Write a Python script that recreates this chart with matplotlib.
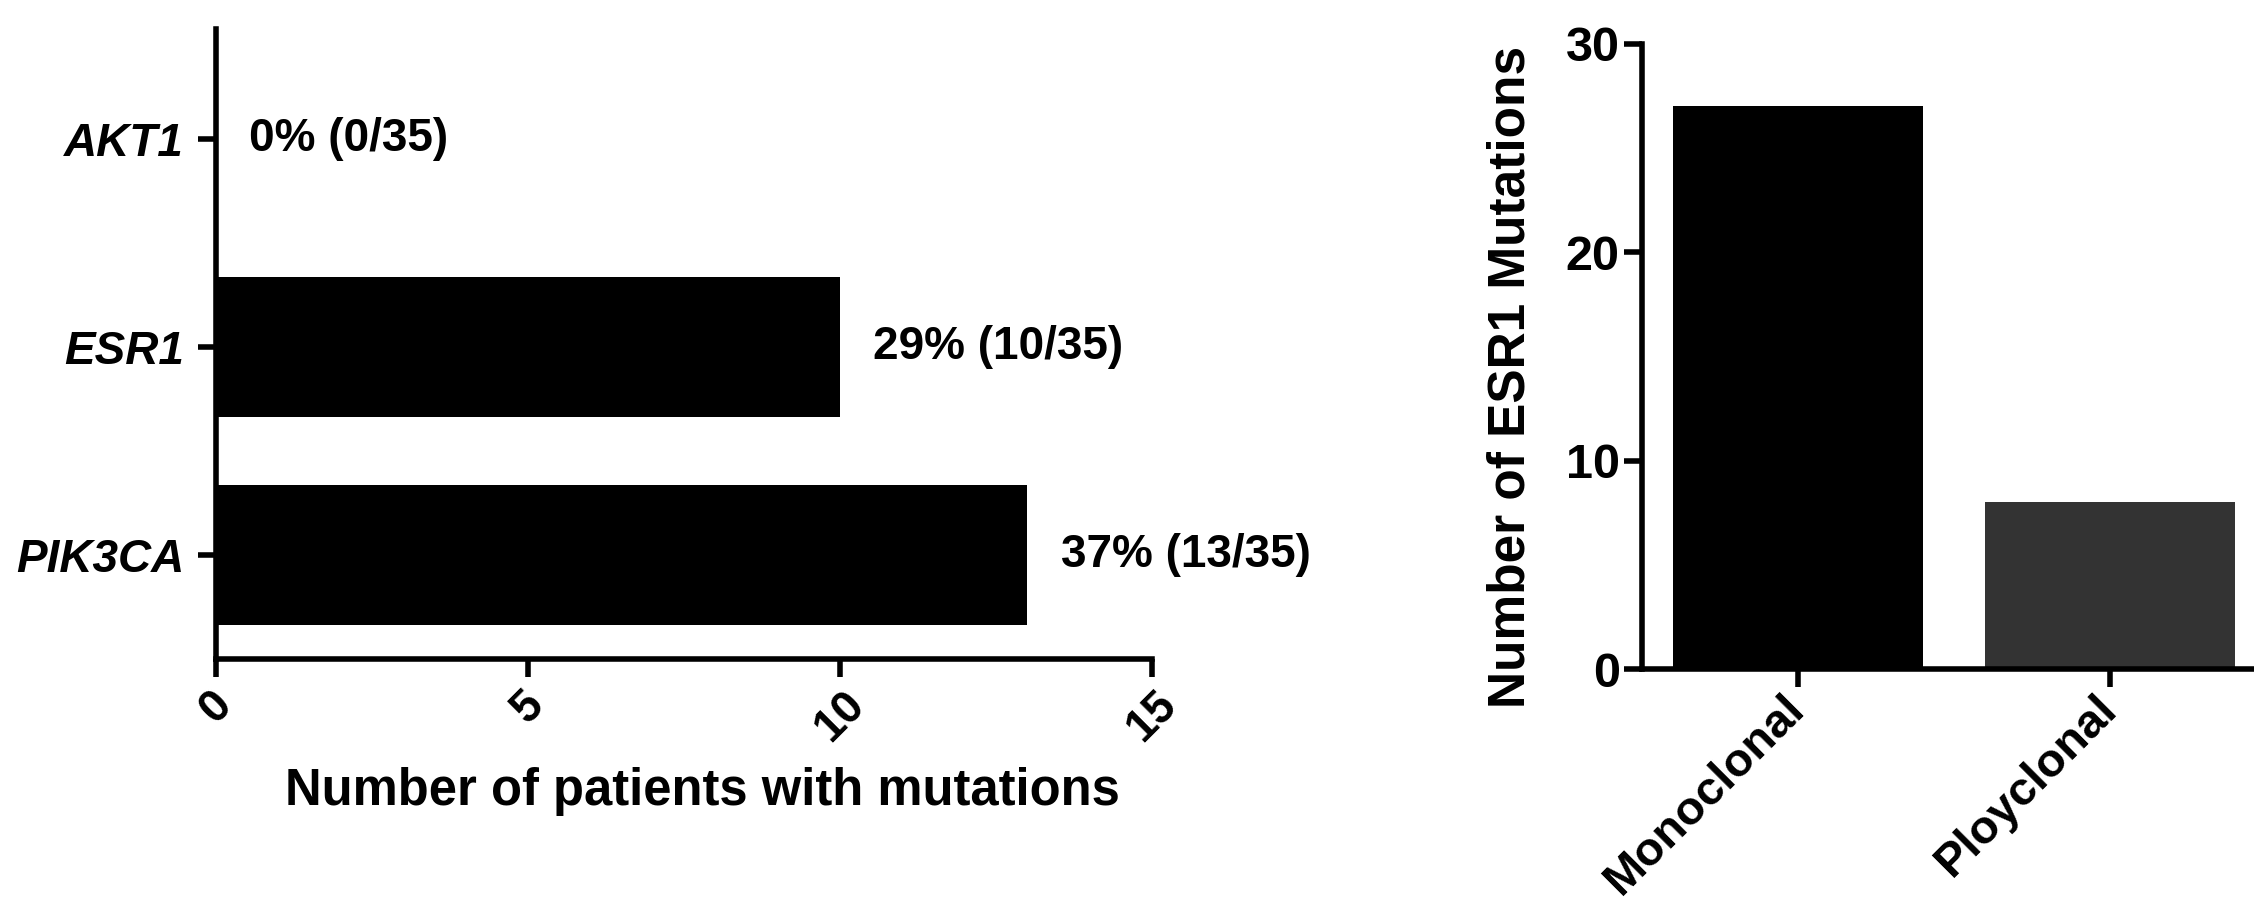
import matplotlib.pyplot as plt

plt.rcParams['font.family'] = ['Liberation Sans', 'DejaVu Sans']
plt.rcParams['font.weight'] = 'bold'

# left panel: patients with mutations per gene
genes = ['PIK3CA', 'ESR1', 'AKT1']
patients = [13, 10, 0]
pct_labels = ['37% (13/35)', '29% (10/35)', '0% (0/35)']

# right panel: ESR1 mutation clonality
clonality = ['Monoclonal', 'Ployclonal']
esr1_counts = [27, 8]
bar_colors = ['black', '#333333']

fig = plt.figure(figsize=(22.54, 9.07), dpi=100)

ax1 = fig.add_axes([0.0958, 0.2734, 0.5111 - 0.0958, 0.968 - 0.2734])
ax2 = fig.add_axes([0.7285, 0.2624, 1.0 - 0.7285, 0.9515 - 0.2624])

for ax in (ax1, ax2):
    for side in ('top', 'right'):
        ax.spines[side].set_visible(False)
    for side in ('left', 'bottom'):
        ax.spines[side].set_linewidth(4)
    ax.tick_params(width=4, length=13, labelsize=33)

# horizontal bars
ypos = list(range(len(genes)))
ax1.barh(ypos, patients, height=0.67, color='black')
for y, v, lab in zip(ypos, patients, pct_labels):
    ax1.annotate(lab, (v, y), xytext=(24, 0), textcoords='offset points',
                 va='center', ha='left', fontsize=33, fontweight='bold')
ax1.set_yticks(ypos)
ax1.set_yticklabels(genes, fontstyle='italic', fontweight='bold')
ax1.set_xlim(0, 15)
ax1.set_ylim(-0.5, 2.53)
ax1.set_xticks([0, 5, 10, 15])
ax1.tick_params(axis='y', pad=10)
ax1.tick_params(axis='x', pad=4)
for t in ax1.get_xticklabels():
    t.set_rotation(45)
    t.set_ha('center')
ax1.set_xlabel('Number of patients with mutations', fontsize=36.5, fontweight='bold', labelpad=12)
ax1.xaxis.label.set_x(0.52)

# vertical bars
xpos = list(range(len(clonality)))
ax2.bar(xpos, esr1_counts, width=0.8, color=bar_colors)
ax2.set_xlim(-0.5, 1.46)
ax2.set_ylim(0, 30)
ax2.set_yticks([0, 10, 20, 30])
ax2.set_xticks(xpos)
ax2.set_xticklabels(clonality, rotation=45, ha='right', va='center',
                    rotation_mode='anchor', fontsize=34)
ax2.tick_params(axis='y', pad=3, labelsize=35)
ax2.tick_params(axis='x', pad=11)
ax2.set_ylabel('Number of ESR1 Mutations', fontsize=37, fontweight='bold', labelpad=22)
ax2.yaxis.label.set_y(0.467)

fig.savefig('out.png', dpi=100)
